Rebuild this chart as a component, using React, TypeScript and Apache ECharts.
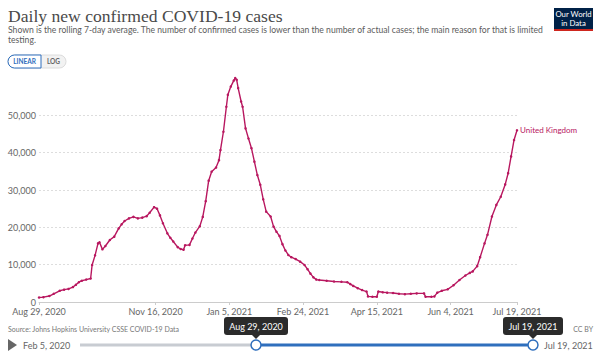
import React, { useEffect, useRef } from "react";
import * as echarts from "echarts";

// Days since Aug 29, 2020
const DAY_OFFSETS = [
  0, 3, 7, 10, 14, 17, 20, 23, 25, 27, 29, 32, 35, 36, 38, 40, 41, 43, 45, 48,
  51, 54, 56, 58, 61, 64, 67, 70, 73, 75, 78, 80, 82, 84, 87, 89, 91, 94, 96, 98,
  99, 102, 104, 106, 109, 111, 113, 115, 117, 120, 122, 123, 125, 127, 128, 130,
  132, 133, 134, 135, 137, 138, 140, 142, 144, 146, 148, 150, 152, 154, 157, 159,
  161, 163, 165, 167, 169, 171, 174, 177, 180, 182, 184, 186, 188, 190, 195, 200,
  205, 209, 211, 213, 216, 219, 222, 223, 226, 229, 230, 233, 236, 240, 244, 248,
  252, 256, 261, 262, 266, 268, 270, 273, 277, 281, 285, 289, 292, 294, 297, 299,
  302, 304, 307, 310, 313, 316, 318, 320, 322, 324,
];
const CASES = [
  1200, 1300, 1600, 2200, 3000, 3300, 3500, 4000, 4600, 5300, 5700, 6000, 6300,
  9900, 12500, 15700, 16000, 14100, 15000, 16600, 17500, 19700, 20800, 21700,
  22400, 22800, 22400, 22600, 23000, 23900, 25400, 25000, 23200, 21100, 18400,
  17200, 16200, 14700, 14200, 14000, 15200, 15300, 17000, 18600, 20300, 22800,
  27000, 32500, 34900, 36000, 38000, 40700, 45600, 52300, 55500, 57700, 59300,
  60000, 59500, 57300, 53700, 52300, 46500, 43800, 41200, 37600, 34000, 31400,
  27500, 24200, 22900, 20200, 18800, 17700, 15500, 13800, 12600, 12000, 11500,
  10800, 9900, 8800, 7600, 6600, 6000, 5900, 5700, 5500, 5400, 5300, 4800, 4300,
  3700, 3200, 2800, 1500, 1400, 1400, 2800, 2600, 2500, 2400, 2200, 2100, 2200,
  2300, 2300, 1400, 1400, 1500, 2500, 3000, 3400, 4500, 5900, 7100, 7800, 8200,
  9600, 12000, 15700, 18000, 22900, 26000, 28200, 31500, 34500, 39000, 43400,
  46000,
];
const TICK_DAYS = [0, 79, 129, 179, 229, 279, 324];
const TICK_LABELS = [
  "Aug 29, 2020",
  "Nov 16, 2020",
  "Jan 5, 2021",
  "Feb 24, 2021",
  "Apr 15, 2021",
  "Jun 4, 2021",
  "Jul 19, 2021",
];
const SERIES_NAME = "United Kingdom";
const TITLE = "Daily new confirmed COVID-19 cases";
const SUBTITLE_1 =
  "Shown is the rolling 7-day average. The number of confirmed cases is lower than the number of actual cases; the main reason for that is limited";
const SUBTITLE_2 = "testing.";
const SOURCE = "Source: Johns Hopkins University CSSE COVID-19 Data";

const LINE_COLOR = "#b8175f";
const BLUE = "#2f6fbd";
const FONT = "Lato, 'Noto Sans', sans-serif";

export default function App() {
  const ref = useRef<HTMLDivElement>(null);
  useEffect(() => {
    document.body.style.margin = "0";
    const chart = echarts.init(ref.current!, undefined, { renderer: "svg" });
    const data = DAY_OFFSETS.map((d, i) => [d, CASES[i]]);
    const txt = (text: string, x: number, y: number, size: number, fill: string, extra: any = {}) => ({
      type: "text",
      x,
      y,
      silent: true,
      style: {
        text,
        fill,
        fontSize: size,
        fontFamily: FONT,
        textVerticalAlign: "middle",
        ...extra,
      },
    });
    const tooltipBox = (label: string, cx: number, w: number) => [
      {
        type: "rect",
        shape: { x: cx - w / 2, y: 317, width: w, height: 18, r: 3 },
        style: { fill: "#2b2b2b" },
      },
      {
        type: "polygon",
        shape: { points: [[cx - 4, 335], [cx + 4, 335], [cx, 339]] },
        style: { fill: "#2b2b2b" },
      },
      txt(label, cx, 326, 9, "#fff", { textAlign: "center" }),
    ];
    chart.setOption({
      animation: false,
      backgroundColor: "#fff",
      textStyle: { fontFamily: FONT },
      grid: { left: 39, right: 83, top: 78, bottom: 53 },
      xAxis: {
        type: "value",
        min: 0,
        max: 324,
        axisLine: { show: true, lineStyle: { color: "#cccccc" } },
        axisTick: { show: true, length: 3, customValues: TICK_DAYS, lineStyle: { color: "#cccccc" } },
        splitLine: { show: false },
        axisLabel: {
          customValues: TICK_DAYS,
          color: "#666",
          fontSize: 9,
          margin: 5,
          formatter: (v: number) => {
            const i = TICK_DAYS.indexOf(Math.round(v));
            return i >= 0 ? TICK_LABELS[i] : "";
          },
        },
      },
      yAxis: {
        type: "value",
        min: 0,
        max: 60000,
        interval: 10000,
        axisLine: { show: false },
        axisTick: { show: false },
        axisLabel: {
          color: "#666",
          fontSize: 9,
          margin: 3,
          formatter: (v: number) => (v > 50000 ? "" : v.toLocaleString("en-US")),
        },
        splitLine: {
          show: true,
          showMinLine: false,
          showMaxLine: false,
          lineStyle: { color: "#dddddd", type: [2, 2] },
        },
      },
      series: [
        {
          type: "line",
          name: SERIES_NAME,
          data,
          lineStyle: { color: LINE_COLOR, width: 1.4 },
          itemStyle: { color: LINE_COLOR },
          symbol: "circle",
          symbolSize: 2.5,
          showSymbol: true,
          endLabel: {
            show: true,
            formatter: SERIES_NAME,
            color: LINE_COLOR,
            fontSize: 8,
            fontFamily: FONT,
            distance: 3,
          },
        },
      ],
      graphic: [
        {
          type: "text",
          x: 8,
          y: 16,
          silent: true,
          style: {
            text: TITLE,
            fill: "#4a4a4a",
            fontSize: 17.6,
            fontFamily: "'Liberation Serif', 'DejaVu Serif', serif",
            textVerticalAlign: "middle",
          },
        },
        txt(SUBTITLE_1, 8, 30, 8.6, "#5b5b5b"),
        txt(SUBTITLE_2, 8, 40, 8.6, "#5b5b5b"),
        // LINEAR / LOG toggle
        {
          type: "rect",
          shape: { x: 8, y: 55, width: 58, height: 13, r: 6.5 },
          style: { fill: "#f2f2f2", stroke: "#dcdcdc", lineWidth: 1 },
        },
        {
          type: "rect",
          shape: { x: 8, y: 55, width: 33, height: 13, r: [6.5, 0, 0, 6.5] },
          style: { fill: "#fff", stroke: BLUE, lineWidth: 1 },
        },
        txt("LINEAR", 24.5, 61.5, 6.5, BLUE, { textAlign: "center", fontWeight: "bold" }),
        txt("LOG", 53.5, 61.5, 6.5, "#666", { textAlign: "center", fontWeight: "bold" }),
        // Logo
        { type: "rect", shape: { x: 554, y: 8, width: 39, height: 21 }, style: { fill: "#002147" } },
        { type: "rect", shape: { x: 554, y: 29, width: 39, height: 2 }, style: { fill: "#ce261e" } },
        txt("Our World", 573.5, 14, 7.8, "#fff", { textAlign: "center" }),
        txt("in Data", 573.5, 23, 7.8, "#fff", { textAlign: "center" }),
        // footer
        txt(SOURCE, 8, 329, 7, "#777"),
        txt("CC BY", 593, 329, 7, "#777", { textAlign: "right" }),
        // timeline
        {
          type: "polygon",
          shape: { points: [[8, 339], [8, 351], [17, 345]] },
          style: { fill: "#666" },
        },
        txt("Feb 5, 2020", 23, 345, 9, "#666"),
        {
          type: "line",
          shape: { x1: 80, y1: 345, x2: 256, y2: 345 },
          style: { stroke: "#c8ccd2", lineWidth: 3 },
        },
        {
          type: "line",
          shape: { x1: 256, y1: 345, x2: 533, y2: 345 },
          style: { stroke: BLUE, lineWidth: 3 },
        },
        { type: "circle", shape: { cx: 256, cy: 345, r: 5 }, style: { fill: "#fff", stroke: BLUE, lineWidth: 1.5 } },
        { type: "circle", shape: { cx: 533, cy: 345, r: 5 }, style: { fill: "#fff", stroke: BLUE, lineWidth: 1.5 } },
        txt("Jul 19, 2021", 544, 345, 9, "#666"),
        ...tooltipBox("Aug 29, 2020", 256, 64),
        ...tooltipBox("Jul 19, 2021", 533, 60),
      ],
    });
    return () => chart.dispose();
  }, []);
  return <div ref={ref} style={{ width: 600, height: 355 }} />;
}
